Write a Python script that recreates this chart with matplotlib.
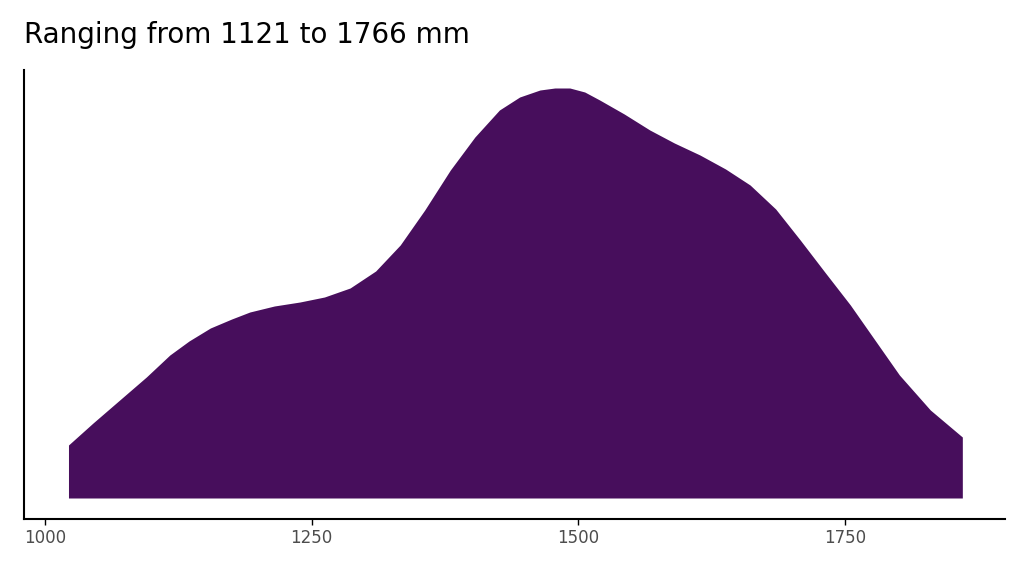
import matplotlib
matplotlib.use("Agg")
import matplotlib.pyplot as plt
import numpy as np

x_mm = [1022, 1045, 1070, 1095, 1117, 1135, 1155, 1175, 1192, 1215, 1239, 1262, 1286, 1310, 1333, 1356, 1380, 1403, 1426, 1445, 1464, 1478, 1492, 1506, 1520, 1543, 1567, 1590, 1614, 1638, 1661, 1685, 1708, 1731, 1755, 1778, 1801, 1830, 1860]
density = [53, 75, 98, 121, 143, 157, 170, 179, 186, 192, 196, 201, 210, 227, 253, 288, 328, 361, 388, 401, 408, 410, 410, 406, 398, 384, 368, 355, 343, 329, 313, 289, 258, 226, 193, 158, 123, 88, 61]
title = "Ranging from 1121 to 1766 mm"
xticks = [1000, 1250, 1500, 1750]

fig = plt.figure(figsize=(10.24, 5.76), dpi=100)
ax = fig.add_axes([24/1024, 57/576, 981/1024, 449/576])
ax.fill_between(x_mm, 0, density, color="#470E5C", linewidth=0)
ax.set_xlim(980.3, 1900)
ax.set_ylim(-21, 428)
ax.set_yticks([])
ax.set_xticks(xticks)
ax.tick_params(axis="x", labelsize=12, colors="#4D4D4D", length=4, width=1)
ax.tick_params(axis="x", color="black")
for s in ["top", "right"]:
    ax.spines[s].set_visible(False)
for s in ["left", "bottom"]:
    ax.spines[s].set_linewidth(1.5)
fig.text(24/1024, 1-35/576, title, fontsize=20, va="center", ha="left")
fig.savefig("out.png", dpi=100)
